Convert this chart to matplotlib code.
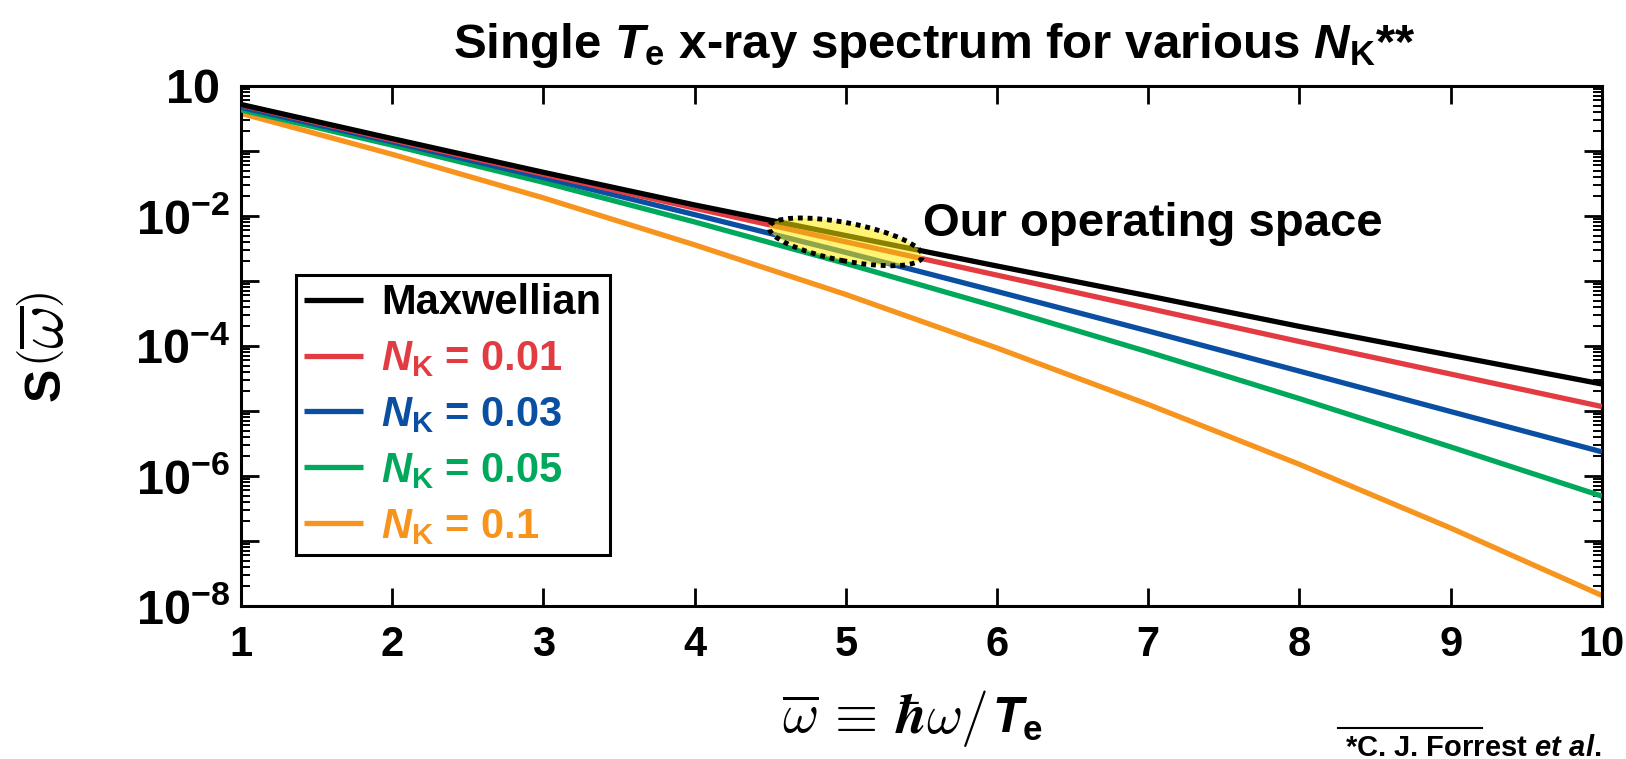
import matplotlib
matplotlib.use('Agg')
import matplotlib.pyplot as plt
import matplotlib.transforms as mtransforms
from matplotlib.patches import Ellipse
from matplotlib.lines import Line2D
from matplotlib.ticker import LogLocator, NullFormatter
import numpy as np

plt.rcParams['font.family'] = ['Liberation Sans', 'DejaVu Sans']
plt.rcParams['font.weight'] = 'bold'
plt.rcParams['mathtext.fontset'] = 'custom'
plt.rcParams['mathtext.rm'] = 'Liberation Sans:bold'
plt.rcParams['mathtext.bf'] = 'Liberation Sans:bold'
plt.rcParams['mathtext.it'] = 'Liberation Sans:bold:italic'

# normalized photon energy hw/Te
w_bar = [1, 2, 3, 4, 5, 6, 7, 8, 9, 10]

# spectra S(w) for the Maxwellian and the kappa-like tails
s_maxwell = [5.2e-1, 1.55e-1, 4.7e-2, 1.48e-2, 5.0e-3, 1.7e-3, 5.9e-4, 2.0e-4, 7.2e-5, 2.6e-5]
s_nk001 = [5.1e-1, 1.48e-1, 4.4e-2, 1.32e-2, 4.0e-3, 1.23e-3, 3.8e-4, 1.17e-4, 3.7e-5, 1.17e-5]
s_nk003 = [4.7e-1, 1.38e-1, 3.9e-2, 1.05e-2, 2.75e-3, 6.9e-4, 1.7e-4, 4.1e-5, 9.8e-6, 2.35e-6]
s_nk005 = [4.3e-1, 1.23e-1, 3.3e-2, 8.1e-3, 1.86e-3, 4.0e-4, 8.1e-5, 1.55e-5, 2.8e-6, 4.9e-7]
s_nk01 = [3.8e-1, 8.9e-2, 1.9e-2, 3.6e-3, 6.2e-4, 9.3e-5, 1.26e-5, 1.51e-6, 1.58e-7, 1.45e-8]

labels = ['Maxwellian', r'$N_{\mathrm{K}}$ = 0.01', r'$N_{\mathrm{K}}$ = 0.03',
          r'$N_{\mathrm{K}}$ = 0.05', r'$N_{\mathrm{K}}$ = 0.1']
colors = ['#000000', '#E23C42', '#0A4FA2', '#00A85C', '#F7941D']

x_ticks = [1, 2, 3, 4, 5, 6, 7, 8, 9, 10]
y_ticks = [1e0, 1e-1, 1e-2, 1e-3, 1e-4, 1e-5, 1e-6, 1e-7, 1e-8]
y_ticklabels = ['10\u2009', '', r'$10^{-2}$', '', r'$10^{-4}$', '', r'$10^{-6}$', '', r'$10^{-8}$']

fig = plt.figure(figsize=(16.26, 7.59), dpi=100)
ax = fig.add_axes([0.1482, 0.2016, 0.8370, 0.6851])

series = [s_maxwell, s_nk001, s_nk003, s_nk005, s_nk01]
for i, (s, c, lab) in enumerate(zip(series, colors, labels)):
    ax.plot(w_bar, s, color=c, lw=3.8, label=lab, zorder=6 - i, solid_capstyle='butt')

ax.set_yscale('log')
ax.set_xlim(1, 10)
ax.set_ylim(1e-8, 1e0)
ax.set_xticks(x_ticks)
ax.set_xticklabels([str(t) for t in x_ticks])
ax.set_yticks(y_ticks)
ax.set_yticklabels(y_ticklabels)
ax.yaxis.set_minor_locator(LogLocator(base=10, subs=np.arange(2, 10), numticks=100))
ax.yaxis.set_minor_formatter(NullFormatter())

ax.tick_params(which='both', direction='in', top=True, right=True)
ax.tick_params(which='major', length=13, width=2)
ax.tick_params(which='minor', length=6.5, width=1.4)
ax.tick_params(axis='x', pad=14, labelsize=30)
ax.tick_params(axis='y', pad=8, labelsize=35)
for sp in ax.spines.values():
    sp.set_linewidth(2.2)

# highlighted operating region
ell_tr = fig.dpi_scale_trans + mtransforms.ScaledTranslation(5.0, 4.0e-3, ax.transData)
ell = Ellipse((0, 0), 1.56, 0.38, angle=-11, transform=ell_tr,
              facecolor=(1.0, 0.92, 0.0, 0.55), edgecolor='black', lw=3.5,
              linestyle=(0, (1, 1)), zorder=10)
ax.add_patch(ell)
fig.text(0.5677, 0.689, 'Our operating space', fontsize=34, ha='left', va='baseline')

leg = ax.legend(loc='upper left', bbox_to_anchor=(0.0404, 0.6365), borderaxespad=0,
                fontsize=30, frameon=True, fancybox=False, edgecolor='black', framealpha=1,
                handlelength=1.4, handletextpad=0.45, labelspacing=0.38, borderpad=0.2)
leg.get_frame().set_linewidth(2.2)
for txt, c in zip(leg.get_texts(), colors):
    txt.set_color(c)

fig.text(0.5744, 0.9236, r'Single $T_{\mathrm{e}}$ x-ray spectrum for various $N_{\mathrm{K}}$**',
         fontsize=35.5, ha='center', va='baseline')

# axis labels: greek part in computer modern, S and Te in the sans font
fig.text(47 / 1626, 1 - 384 / 759, 'S', fontsize=36, rotation=90, ha='center', va='center')
fig.text(47 / 1626, 1 - 329 / 759, r'$\left(\overline{\omega}\right)$', fontsize=48,
         rotation=90, ha='center', va='center', math_fontfamily='cm')
fig.text(0.6076, 0.034, r'$\overline{\omega}\,\equiv\,\hbar\omega/$', fontsize=40,
         ha='right', va='baseline', math_fontfamily='cm')
fig.text(0.6100, 0.034, r'$T_{\mathrm{e}}$', fontsize=36, ha='left', va='baseline')

# citation footnote
fig.add_artist(Line2D([1338 / 1626, 1482 / 1626], [1 - 728 / 759, 1 - 728 / 759],
                      color='black', lw=1.5, transform=fig.transFigure))
fig.text(1345 / 1626, 1 - 756 / 759, r'*C. J. Forrest $et\ al.$', fontsize=21,
         ha='left', va='baseline')

fig.savefig('out.png', dpi=100)
